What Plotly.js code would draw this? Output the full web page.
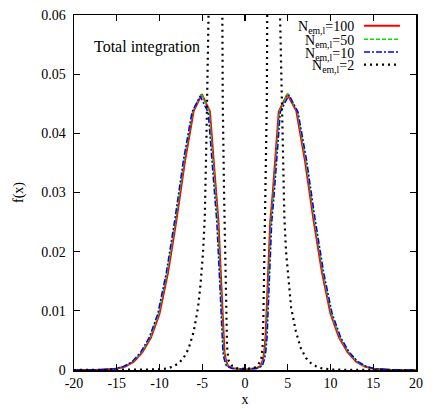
<!DOCTYPE html>
<html>
<head>
<meta charset="utf-8">
<script src="https://cdn.plot.ly/plotly-3.0.1.min.js"></script>
<style>html,body{margin:0;padding:0;background:#fff;}#chart{width:438px;height:409px;}</style>
</head>
<body>
<div id="chart"></div>
<script>
// ---- data ----
const seriesNames = ["N<sub>em,l</sub>=100", "N<sub>em,l</sub>=50", "N<sub>em,l</sub>=10", "N<sub>em,l</sub>=2"];

const xN100 = [-20,-17,-15,-14,-13,-12,-11,-10,-9,-8,-7,-6,-5.05,-4.1,-3.7,-3.4,-3.1,-2.9,-2.75,-2.65,-2.55,-2.4,-2.25,-2.0,-1.5,0,
  1.35,1.85,2.1,2.25,2.4,2.5,2.6,2.75,2.95,3.25,3.55,3.95,4.95,6,7,8,9,10,11,12,13,14,15,17,20];
const yN100 = [0,0.00003,0.0002,0.0006,0.0014,0.0030,0.0055,0.0095,0.0165,0.0255,0.0355,0.0438,0.0466,0.0437,0.0360,0.0300,0.0250,0.0185,0.0135,0.0090,0.0055,0.0030,0.0018,0.0007,0.0003,0.0001,
  0.0003,0.0007,0.0018,0.0030,0.0055,0.0090,0.0135,0.0185,0.0250,0.0300,0.0360,0.0437,0.0466,0.0438,0.0355,0.0255,0.0165,0.0095,0.0055,0.0030,0.0014,0.0006,0.0002,0.00003,0];

const xN50 = [-20,-17.1,-15.1,-14.1,-13.1,-12.1,-11.1,-10.1,-9.1,-8.1,-7.1,-6.1,-5.1,-4.18,-3.78,-3.48,-3.18,-2.98,-2.83,-2.73,-2.63,-2.48,-2.33,-2.08,-1.55,0,
  1.4,1.93,2.18,2.33,2.48,2.58,2.68,2.83,3.03,3.33,3.63,4.03,5.0,6.1,7.1,8.1,9.1,10.1,11.1,12.1,13.1,14.1,15.1,17.1,20];
const yN50 = [0,0.00003,0.0002,0.0006,0.0014,0.0030,0.0055,0.0095,0.0165,0.0255,0.0355,0.0438,0.0467,0.0437,0.0360,0.0300,0.0250,0.0185,0.0135,0.0090,0.0055,0.0030,0.0018,0.0007,0.0003,0.0001,
  0.0003,0.0007,0.0018,0.0030,0.0055,0.0090,0.0135,0.0185,0.0250,0.0300,0.0360,0.0437,0.0467,0.0438,0.0355,0.0255,0.0165,0.0095,0.0055,0.0030,0.0014,0.0006,0.0002,0.00003,0];

const xN10 = [-20,-17.2,-15.2,-14.2,-13.2,-12.2,-11.2,-10.2,-9.2,-8.2,-7.2,-6.2,-5.25,-4.3,-3.9,-3.6,-3.3,-3.08,-2.93,-2.83,-2.73,-2.58,-2.43,-2.18,-1.6,0,
  1.45,2.03,2.28,2.43,2.58,2.68,2.78,2.93,3.13,3.43,3.73,4.13,5.15,6.2,7.2,8.2,9.2,10.2,11.2,12.2,13.2,14.2,15.2,17.2,20];
const yN10 = [0,0.00003,0.0002,0.0006,0.0014,0.0030,0.0055,0.0095,0.0165,0.0255,0.0355,0.0436,0.0463,0.0435,0.0360,0.0300,0.0250,0.0185,0.0135,0.0090,0.0055,0.0030,0.0018,0.0007,0.0003,0.0001,
  0.0003,0.0007,0.0018,0.0030,0.0055,0.0090,0.0135,0.0185,0.0250,0.0300,0.0360,0.0436,0.0465,0.0436,0.0355,0.0255,0.0165,0.0095,0.0055,0.0030,0.0014,0.0006,0.0002,0.00003,0];

const xN2 = [-20,-12,-10,-9,-8.4,-7.8,-7.2,-6.6,-6.0,-5.5,-5.2,-4.9,-4.7,-4.5,-4.35,-4.2,-3.45,-2.65,-2.6,-2.45,-2.3,-2.2,-2.1,-1.95,-1.5,-1.0,0,
  1.0,1.45,1.9,2.05,2.15,2.25,2.4,2.55,2.6,3.35,4.1,4.25,4.4,4.6,4.8,5.1,5.4,5.95,6.55,7.15,7.75,8.35,8.95,9.95,12,20];
const yN2 = [0,0.00001,0.0001,0.0003,0.0006,0.0011,0.0020,0.0036,0.0065,0.0105,0.0145,0.0200,0.0260,0.0400,0.0490,0.0600,0.1300,0.0600,0.0450,0.0300,0.0180,0.0090,0.0040,0.0017,0.0007,0.0003,0.0002,
  0.0003,0.0007,0.0017,0.0040,0.0090,0.0180,0.0300,0.0450,0.0600,0.1300,0.0600,0.0490,0.0400,0.0260,0.0200,0.0145,0.0105,0.0065,0.0036,0.0020,0.0011,0.0006,0.0003,0.0001,0.00001,0];

const xTickVals = [-20,-15,-10,-5,0,5,10,15,20];
const xTickText = ["-20","-15","-10","-5","0","5","10","15","20"];
const yTickVals = [0,0.01,0.02,0.03,0.04,0.05,0.06];
const yTickText = ["0","0.01","0.02","0.03","0.04","0.05","0.06"];
const plotTitle = "Total integration";

// ---- styles ----
const styles = [
  {color:"#ff0000", width:2,   dash:"solid"},
  {color:"#00e000", width:1.5, dash:"4px,2px"},
  {color:"#0000ff", width:1.5, dash:"6px,2px,2px,2px"},
  {color:"#000000", width:2.2, dash:"2px,4px"}
];
const xs = [xN100, xN50, xN10, xN2];
const ys = [yN100, yN50, yN10, yN2];

const traces = xs.map((x,i)=>({
  x:x, y:ys[i], type:"scatter", mode:"lines", name:seriesNames[i],
  line:{color:styles[i].color, width:styles[i].width, dash:styles[i].dash},
  showlegend:false, hoverinfo:"skip"
}));

const serif = "Liberation Serif, Times New Roman, serif";
const annotations = [{
  text:plotTitle, xref:"paper", yref:"paper", x:0.052, y:0.909,
  xanchor:"left", yanchor:"middle", showarrow:false,
  font:{family:serif, size:16, color:"#000"}
}];
const shapes = [];
const rowY = [0.970, 0.932, 0.896, 0.860];
seriesNames.forEach((n,i)=>{
  annotations.push({text:n, xref:"paper", yref:"paper", x:0.826, y:rowY[i]-0.006,
    xanchor:"right", yanchor:"middle", showarrow:false,
    font:{family:serif, size:14, color:"#000"}});
  shapes.push({type:"line", xref:"paper", yref:"paper", x0:0.848, x1:0.953, y0:rowY[i], y1:rowY[i],
    line:{color:styles[i].color, width:styles[i].width, dash:styles[i].dash}});
});

const axisCommon = {
  showline:true, linecolor:"#000", linewidth:1.5, mirror:"allticks",
  ticks:"inside", ticklen:6, tickwidth:1.2, tickcolor:"#000",
  showgrid:false, zeroline:false,
  tickfont:{family:serif, size:14, color:"#000"}
};

const layout = {
  width:438, height:409,
  margin:{l:74, r:22, t:15, b:39, pad:0},
  paper_bgcolor:"#fff", plot_bgcolor:"#fff",
  showlegend:false,
  xaxis:Object.assign({}, axisCommon, {range:[-20,20], tickmode:"array", tickvals:xTickVals, ticktext:xTickText,
    title:{text:"x", font:{family:serif, size:14, color:"#000"}, standoff:4}}),
  yaxis:Object.assign({}, axisCommon, {range:[0,0.06], tickmode:"array", tickvals:yTickVals, ticktext:yTickText,
    ticklabelstandoff:4,
    title:{text:"f(x)", font:{family:serif, size:14, color:"#000"}, standoff:14}}),
  annotations:annotations,
  shapes:shapes
};

Plotly.newPlot("chart", traces, layout, {staticPlot:true, displayModeBar:false});
</script>
</body>
</html>
